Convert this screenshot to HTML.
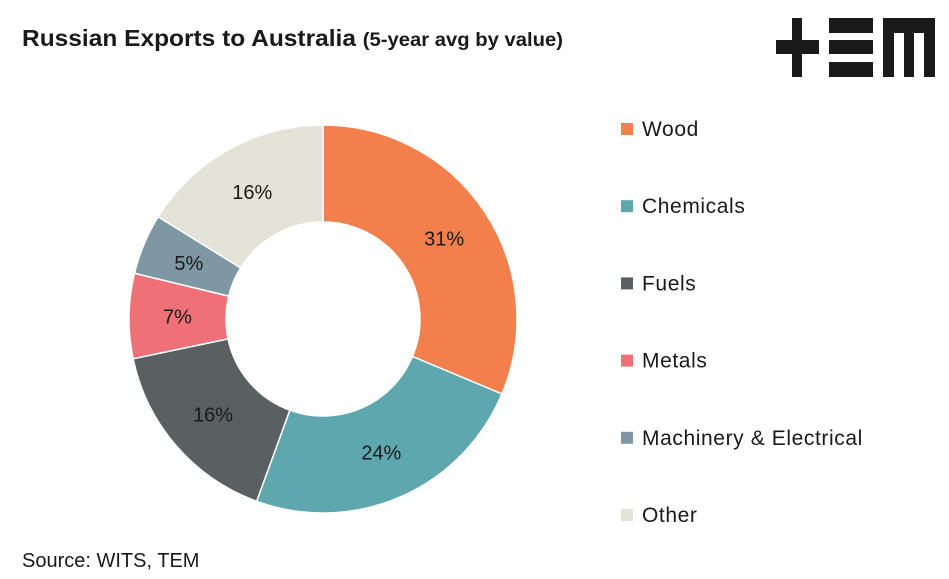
<!DOCTYPE html>
<html><head><meta charset="utf-8"><style>
body{margin:0;background:#fff;font-family:"Liberation Sans",sans-serif;}
#wrap{position:relative;width:949px;height:579px;overflow:hidden;}
</style></head><body>
<div id="wrap">
<svg id="svg" width="949" height="579">
<text x="22" y="46" font-size="23" font-weight="bold" fill="#1a1a1a" textLength="541" lengthAdjust="spacingAndGlyphs">Russian Exports to Australia <tspan font-size="19">(5-year avg by value)</tspan></text>
<g fill="#1a1a1a">
<rect x="792" y="18" width="10" height="59"/><rect x="776" y="40" width="43" height="14"/>
<rect x="829" y="18" width="44" height="15"/><rect x="829" y="40" width="44" height="14"/><rect x="829" y="62" width="44" height="15"/>
<rect x="883" y="18" width="52" height="15"/><rect x="883" y="18" width="11" height="59"/><rect x="904" y="18" width="10" height="59"/><rect x="924" y="18" width="11" height="59"/>
</g>
<g id="slices"></g><g id="labels"></g><g id="legend"></g>
<text x="22" y="567" font-size="20" fill="#1a1a1a">Source: WITS, TEM</text>
</svg>
</div>
<script>
const categories=["Wood","Chemicals","Fuels","Metals","Machinery & Electrical","Other"];
const values=[31,24,16,7,5,16];
const colors=["#f27f4c","#5fa7af","#5a5f61","#f07078","#7d97a3","#e3e3d8"];
const ns="http://www.w3.org/2000/svg";
const cx=323,cy=319,R=194,r=97;
const total=values.reduce((a,b)=>a+b,0);
function pt(a,rad){return [cx+rad*Math.sin(a),cy-rad*Math.cos(a)];}
let a0=0;
const sg=document.getElementById('slices'),lg=document.getElementById('labels'),leg=document.getElementById('legend');
values.forEach((v,i)=>{
 const a1=a0+v/total*2*Math.PI;
 const [x0,y0]=pt(a0,R),[x1,y1]=pt(a1,R),[x2,y2]=pt(a1,r),[x3,y3]=pt(a0,r);
 const large=(a1-a0)>Math.PI?1:0;
 const p=document.createElementNS(ns,'path');
 p.setAttribute('d',`M${x0},${y0}A${R},${R} 0 ${large} 1 ${x1},${y1}L${x2},${y2}A${r},${r} 0 ${large} 0 ${x3},${y3}Z`);
 p.setAttribute('fill',colors[i]);p.setAttribute('stroke','#fff');p.setAttribute('stroke-width','1.5');
 
 
 sg.appendChild(p);
 const [lx,ly]=pt((a0+a1)/2,(R+r)/2);
 const t=document.createElementNS(ns,'text');
 t.setAttribute('x',lx);t.setAttribute('y',ly+7);t.setAttribute('text-anchor','middle');
 t.setAttribute('font-size','20');t.setAttribute('fill','#1a1a1a');
 t.textContent=v+'%';
 
 
 lg.appendChild(t);
 const g=document.createElementNS(ns,'g');
 
 
 const yy=129+i*77.2;
 const s=document.createElementNS(ns,'rect');
 s.setAttribute('x',621);s.setAttribute('y',yy-6);s.setAttribute('width',12);s.setAttribute('height',12);s.setAttribute('fill',colors[i]);
 const lt=document.createElementNS(ns,'text');
 lt.setAttribute('x',642);lt.setAttribute('y',yy+7);lt.setAttribute('font-size','21');lt.setAttribute('fill','#1a1a1a');
 lt.setAttribute('letter-spacing','0.6');
 lt.textContent=categories[i];
 g.appendChild(s);g.appendChild(lt);leg.appendChild(g);
 a0=a1;
});
</script>
</body></html>
